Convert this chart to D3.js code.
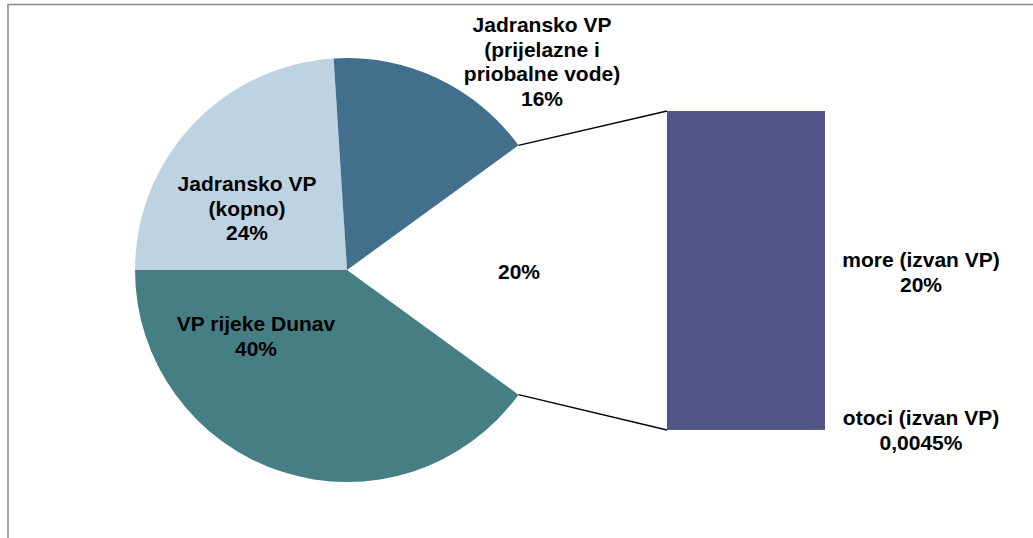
<!DOCTYPE html>
<html>
<head>
    <meta charset='utf-8'>
    <title>Bar of pie</title>
    <script src="https://cdn.jsdelivr.net/npm/d3@7"></script>
    <style type="text/css">
        body { margin: 0; background: #fff; }
        text {
            font-family: "Liberation Sans", Arial, sans-serif;
            font-weight: bold;
            font-size: 21px;
            fill: #000;
        }
        .frame { fill: none; stroke: #888; stroke-width: 1.5; }
        .connector { stroke: #000; stroke-width: 1.5; }
    </style>
</head>
<body>
    <div id="svgContainer"></div>

    <script type="text/javascript">

        // pie slices (percent)
        const pieNames = ["VP rijeke Dunav", "Jadransko VP (kopno)", "Jadransko VP (prijelazne i priobalne vode)"];
        const pieValues = [40, 24, 16];
        const pieLabels = [["VP rijeke Dunav", "40%"], ["Jadransko VP", "(kopno)", "24%"], ["Jadransko VP", "(prijelazne i", "priobalne vode)", "16%"]];
        const pieColors = ["#457f84", "#bed3e2", "#416f8c"];

        // bar (split of the "other" slice)
        const barNames = ["otoci (izvan VP)", "more (izvan VP)"];
        const barValues = [0.0045, 20];
        const barLabels = [["otoci (izvan VP)", "0,0045%"], ["more (izvan VP)", "20%"]];
        const barColor = "#535487";
        const otherLabel = "20%";

        const width = 1033;
        const height = 538;

        const svg = d3.select("#svgContainer").append("svg")
            .attr("width", width)
            .attr("height", height);

        svg.append("path")
            .attr("class", "frame")
            .attr("d", `M8,${height} V4.5 H${width}`);

        const cx = 347, cy = 270, r = 212;
        const lineH = 24.5;

        const otherValue = d3.sum(barValues);
        const total = d3.sum(pieValues) + otherValue;
        const otherAngle = 2 * Math.PI * otherValue / total;
        // the "other" slice sits centred on the right (3 o'clock)
        const start = Math.PI / 2 + otherAngle / 2;

        const pieData = pieValues.map((v, i) => ({ name: pieNames[i], value: v, i: i }))
            .concat([{ name: "other", value: otherValue, i: -1 }]);

        const arcs = d3.pie()
            .sort(null)
            .value(d => d.value)
            .startAngle(start)
            .endAngle(start + 2 * Math.PI)(pieData);

        const arc = d3.arc().innerRadius(0).outerRadius(r);

        const g = svg.append("g").attr("transform", `translate(${cx},${cy})`);

        g.selectAll("path")
            .data(arcs.filter(d => d.data.i >= 0))
            .join("path")
            .attr("d", arc)
            .attr("fill", d => pieColors[d.data.i]);

        // bar
        const x0 = 667, x1 = 825;
        const y = d3.scaleLinear()
            .domain([0, otherValue])
            .range([430, 111]);

        let acc = 0;
        const stack = barValues.map((v, i) => {
            const s = { v0: acc, v1: acc + v, i: i };
            acc += v;
            return s;
        });

        svg.append("g").selectAll("rect")
            .data(stack)
            .join("rect")
            .attr("x", x0)
            .attr("width", x1 - x0)
            .attr("y", d => y(d.v1))
            .attr("height", d => y(d.v0) - y(d.v1))
            .attr("fill", barColor);

        // connector lines from the gap to the bar
        const otherArc = arcs.find(d => d.data.i < 0);
        const pt = a => [cx + r * Math.sin(a), cy - r * Math.cos(a)];
        const pTop = pt(otherArc.startAngle);
        const pBot = pt(otherArc.endAngle);
        svg.append("line").attr("class", "connector")
            .attr("x1", pTop[0]).attr("y1", pTop[1])
            .attr("x2", x0).attr("y2", y(otherValue));
        svg.append("line").attr("class", "connector")
            .attr("x1", pBot[0]).attr("y1", pBot[1])
            .attr("x2", x0).attr("y2", y(0));

        function multiline(sel, lines, x, yBase) {
            const t = sel.append("text").attr("text-anchor", "middle");
            lines.forEach((l, k) => {
                t.append("tspan").attr("x", x).attr("y", yBase + k * lineH).text(l);
            });
        }

        // label anchors (centre x, first baseline)
        const pieLabelPos = [[256, 331], [247, 191], [542, 32]];
        pieLabels.forEach((lines, i) => multiline(svg, lines, pieLabelPos[i][0], pieLabelPos[i][1]));

        const barLabelPos = [[921, 425], [921, 267]];
        barLabels.forEach((lines, i) => multiline(svg, lines, barLabelPos[i][0], barLabelPos[i][1]));

        multiline(svg, [otherLabel], 519, 279);

    </script>
</body>
</html>
